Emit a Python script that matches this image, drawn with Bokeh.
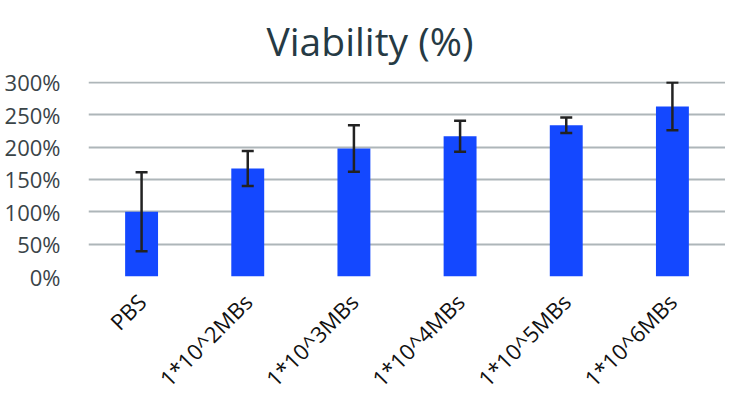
import math
from bokeh.plotting import figure
from bokeh.models import ColumnDataSource, Whisker, TeeHead, FixedTicker, CustomJSTickFormatter
from bokeh.embed import file_html
from bokeh.resources import INLINE

categories = ["PBS", "1*10^2MBs", "1*10^3MBs", "1*10^4MBs", "1*10^5MBs", "1*10^6MBs"]
viability = [100, 167, 198, 217, 234, 263]
error = [61, 27, 36, 24, 12, 37]
y_ticks = [0, 50, 100, 150, 200, 250, 300]

upper = [v + e for v, e in zip(viability, error)]
lower = [v - e for v, e in zip(viability, error)]
src = ColumnDataSource(dict(cat=categories, val=viability, upper=upper, lower=lower))

p = figure(x_range=categories, y_range=(0, 301.5), width=725, height=406,
           output_backend="svg", toolbar_location=None,
           min_border_left=88, min_border_right=0, min_border_top=0, min_border_bottom=129)
p.x_range.range_padding = 0

p.vbar(x="cat", top="val", width=0.31, source=src, fill_color="#1448FF", line_color=None)
w = Whisker(base="cat", upper="upper", lower="lower", source=src, dimension="height",
            line_color="#222222", line_width=2.5, level="overlay",
            upper_head=TeeHead(size=12, line_color="#222222", line_width=2.5),
            lower_head=TeeHead(size=12, line_color="#222222", line_width=2.5))
p.add_layout(w)

p.title.text = "Viability (%)"
p.title.text_font = "Open Sans"
p.title.text_font_size = "39px"
p.title.text_font_style = "normal"
p.title.text_color = "#263a44"
p.title.align = "left"
p.title.vertical_align = "top"
p.title.offset = 178
p.title.standoff = 26

p.yaxis.ticker = FixedTicker(ticks=y_ticks)
p.yaxis.formatter = CustomJSTickFormatter(code="return tick + '%';")
p.yaxis.major_label_text_font = "Open Sans"
p.yaxis.major_label_text_font_size = "22px"
p.yaxis.major_label_text_color = "#3a4448"
p.yaxis.axis_line_color = None
p.yaxis.major_tick_line_color = None
p.yaxis.minor_tick_line_color = None
p.yaxis.major_label_standoff = 22

p.xaxis.major_label_orientation = math.pi / 4
p.xaxis.major_label_text_font = "Open Sans"
p.xaxis.major_label_text_font_size = "22px"
p.xaxis.major_label_text_color = "#111111"
p.xaxis.axis_line_color = None
p.xaxis.major_tick_line_color = None
p.xaxis.major_label_standoff = 15

p.xgrid.grid_line_color = None
p.ygrid.grid_line_color = "#aeb6b9"
p.ygrid.grid_line_width = 2
p.outline_line_color = None

open("out.html", "w").write(file_html(p, INLINE))
